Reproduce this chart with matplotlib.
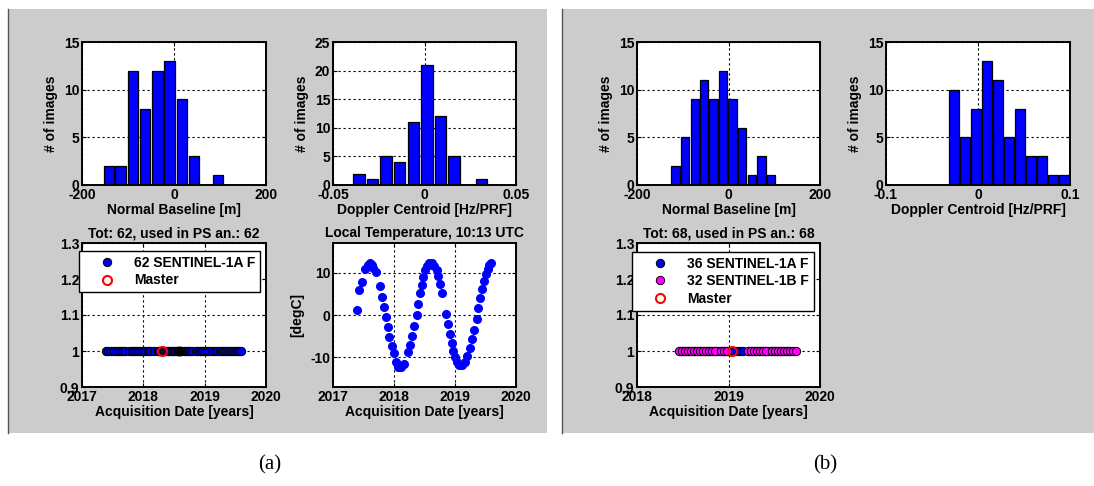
import numpy as np
import matplotlib
matplotlib.use("Agg")
import matplotlib.pyplot as plt
from matplotlib.patches import Rectangle
from matplotlib.lines import Line2D

# ---- data ----

# (a) histograms
base_a_centers = [-142, -116, -89, -63, -36, -10, 17, 43, 70, 96]
base_a_counts = [2, 2, 12, 8, 12, 13, 9, 3, 0, 1]
dop_a_centers = [-0.0358, -0.0285, -0.0210, -0.0136, -0.0061, 0.0013, 0.0088, 0.0162, 0.0237, 0.0311]
dop_a_counts = [2, 1, 5, 4, 11, 21, 12, 5, 0, 1]

# (a) acquisitions + local temperature
dates_a = [2017.388, 2017.432, 2017.470, 2017.525, 2017.568, 2017.607, 2017.634, 2017.661, 2017.705, 2017.770,
           2017.809, 2017.836, 2017.869, 2017.896, 2017.923, 2017.962, 2018.000, 2018.033, 2018.071, 2018.115,
           2018.169, 2018.235, 2018.262, 2018.300, 2018.333, 2018.372, 2018.399, 2018.426, 2018.454, 2018.480,
           2018.508, 2018.536, 2018.574, 2018.617, 2018.656, 2018.700, 2018.727, 2018.754, 2018.787, 2018.852,
           2018.891, 2018.918, 2018.945, 2018.973, 2019.000, 2019.038, 2019.071, 2019.120, 2019.164, 2019.202,
           2019.246, 2019.279, 2019.311, 2019.355, 2019.383, 2019.415, 2019.448, 2019.481, 2019.508, 2019.536,
           2019.563, 2019.590]
temp_a = [1.1, 5.9, 7.8, 10.9, 11.9, 12.3, 11.9, 11.1, 10.1, 6.8,
          4.3, 1.9, -0.5, -2.8, -5.2, -7.4, -9.0, -11.0, -12.2, -12.2,
          -11.5, -8.7, -7.0, -4.9, -2.5, 0.1, 2.7, 5.1, 7.2, 9.0,
          10.6, 11.5, 12.2, 12.2, 11.5, 10.6, 9.3, 7.4, 5.2, 0.3,
          -2.1, -4.4, -6.6, -8.4, -9.8, -11.2, -11.9, -11.8, -11.0, -9.6,
          -7.7, -5.7, -3.5, -0.9, 1.7, 4.0, 6.2, 8.1, 9.7, 10.9,
          11.7, 12.3]
dark_dates_a = [2018.56, 2018.60]
master_a = 2018.30

# (b) histograms
base_b_centers = [-116, -95, -74, -53, -33, -12, 9, 30, 51, 72, 93]
base_b_counts = [2, 5, 9, 11, 9, 12, 9, 6, 1, 3, 1]
dop_b_centers = [-0.0263, -0.0143, -0.0023, 0.0097, 0.0217, 0.0337, 0.0457, 0.0577, 0.0697, 0.0817, 0.0937]
dop_b_counts = [10, 5, 8, 13, 11, 5, 8, 3, 3, 1, 1]

# (b) acquisitions
dates_b_1a = [2018.470, 2018.503, 2018.536, 2018.569, 2018.602, 2018.635, 2018.668, 2018.701, 2018.734,
              2018.767, 2018.800, 2018.833, 2018.866, 2018.899, 2018.932, 2018.965, 2018.998, 2019.031,
              2019.064, 2019.097, 2019.130, 2019.163, 2019.229, 2019.262, 2019.295, 2019.328, 2019.361,
              2019.394, 2019.427, 2019.460, 2019.493, 2019.526, 2019.559, 2019.592, 2019.625, 2019.658]
dates_b_1b = [2018.455, 2018.488, 2018.521, 2018.554, 2018.587, 2018.620, 2018.653, 2018.686, 2018.719,
              2018.752, 2018.785, 2018.818, 2018.851, 2018.917, 2018.950, 2018.983, 2019.214, 2019.247,
              2019.280, 2019.313, 2019.346, 2019.379, 2019.412, 2019.478, 2019.511, 2019.544, 2019.577,
              2019.610, 2019.643, 2019.676, 2019.709, 2019.742]
master_b = 2019.035

# ---- style ----
FS = 10
plt.rcParams['font.family'] = ['Liberation Sans', 'DejaVu Sans']
plt.rcParams['font.weight'] = 'bold'
plt.rcParams['font.size'] = FS
plt.rcParams['axes.labelweight'] = 'bold'
plt.rcParams['axes.titleweight'] = 'bold'
plt.rcParams['axes.unicode_minus'] = False

W, H = 1094, 486
fig = plt.figure(figsize=(W / 100, H / 100), dpi=100)
fig.patch.set_facecolor('white')

# grey MATLAB figure backgrounds (behind the axes)
for x0, x1 in [(8, 547), (562, 1094)]:
    fig.add_artist(Rectangle((x0 / W, 1 - 433 / H), (x1 - x0) / W, (433 - 9) / H,
                             transform=fig.transFigure, facecolor='#cccccc',
                             edgecolor='none', zorder=-2))
    fig.add_artist(Line2D([x0 / W] * 2, [1 - 433 / H, 1 - 9 / H], color='#555555', lw=1,
                          zorder=-1))


def px_axes(x0, y0, x1, y1):
    return fig.add_axes([x0 / W, 1 - y1 / H, (x1 - x0) / W, (y1 - y0) / H])


def style(ax):
    ax.set_facecolor('white')
    for s in ax.spines.values():
        s.set_linewidth(1.4)
    ax.tick_params(direction='in', length=3, width=0.8, top=True, right=True, pad=2,
                   labelsize=FS)
    ax.tick_params(axis='x', pad=2)
    ax.grid(True, color='k', linestyle=(0, (2, 2.5)), linewidth=0.8)
    ax.set_axisbelow(True)


def hist_panel(ax, centers, counts, xlim, xticks, xticklabels, ymax, ystep, xlabel):
    style(ax)
    spacing = centers[1] - centers[0]
    ax.bar(centers, counts, width=0.86 * spacing, color='b', edgecolor='k', linewidth=0.9)
    ax.set_xlim(xlim)
    ax.set_xticks(xticks)
    ax.set_xticklabels(xticklabels)
    ax.set_ylim(0, ymax)
    ax.set_yticks(np.arange(0, ymax + 1, ystep))
    ax.set_xlabel(xlabel, labelpad=1)
    ax.set_ylabel('# of images', labelpad=4)


def dates_panel(ax, xlim, title):
    style(ax)
    ax.set_xlim(xlim)
    ax.set_xticks(np.arange(xlim[0], xlim[1] + 1))
    ax.set_ylim(0.9, 1.3)
    ax.set_yticks([0.9, 1, 1.1, 1.2, 1.3])
    ax.set_yticklabels(['0.9', '1', '1.1', '1.2', '1.3'])
    ax.set_xlabel('Acquisition Date [years]', labelpad=1)
    ax.set_title(title, pad=4, fontsize=FS)


def add_legend(ax, anchor):
    ax.legend(loc='upper left', bbox_to_anchor=anchor, borderaxespad=0, frameon=True,
              fancybox=False, edgecolor='k', framealpha=1, numpoints=1, fontsize=FS,
              handlelength=3.3, handletextpad=0.3, borderpad=0.35, labelspacing=0.25)


# ---- (a) ----
ax1 = px_axes(82, 42, 266, 185)
hist_panel(ax1, base_a_centers, base_a_counts, (-200, 200), [-200, 0, 200],
           ['-200', '0', '200'], 15, 5, 'Normal Baseline [m]')

ax2 = px_axes(333, 42, 516, 185)
hist_panel(ax2, dop_a_centers, dop_a_counts, (-0.05, 0.05), [-0.05, 0, 0.05],
           ['-0.05', '0', '0.05'], 25, 5, 'Doppler Centroid [Hz/PRF]')

ax3 = px_axes(82, 243, 266, 387)
dates_panel(ax3, (2017, 2020), 'Tot: 62, used in PS an.: 62')
ax3.plot(dates_a, np.ones(len(dates_a)), 'o', ms=6, mfc='#0000ee', mec='k', mew=0.7,
         label='62 SENTINEL-1A F', zorder=3)
ax3.plot(dark_dates_a, np.ones(len(dark_dates_a)), 'o', ms=6, mfc='k', mec='k', zorder=3)
ax3.plot([master_a], [1], 'o', ms=6.5, mfc='none', mec='r', mew=1.5, label='Master', zorder=4)
add_legend(ax3, (-0.016, 0.944))

ax4 = px_axes(333, 243, 516, 387)
style(ax4)
ax4.plot(dates_a, temp_a, 'o', ms=5.5, mfc='b', mec='b', zorder=3)
ax4.set_xlim(2017, 2020)
ax4.set_xticks([2017, 2018, 2019, 2020])
ax4.set_ylim(-17, 17)
ax4.set_yticks([-10, 0, 10])
ax4.set_xlabel('Acquisition Date [years]', labelpad=1)
ax4.set_ylabel('[degC]', labelpad=4)
ax4.set_title('Local Temperature, 10:13 UTC', pad=4, fontsize=FS)

# ---- (b) ----
bx1 = px_axes(637, 42, 820, 185)
hist_panel(bx1, base_b_centers, base_b_counts, (-200, 200), [-200, 0, 200],
           ['-200', '0', '200'], 15, 5, 'Normal Baseline [m]')

bx2 = px_axes(886, 42, 1070, 185)
hist_panel(bx2, dop_b_centers, dop_b_counts, (-0.1, 0.1), [-0.1, 0, 0.1],
           ['-0.1', '0', '0.1'], 15, 5, 'Doppler Centroid [Hz/PRF]')

bx3 = px_axes(637, 243, 820, 387)
dates_panel(bx3, (2018, 2020), 'Tot: 68, used in PS an.: 68')
bx3.plot(dates_b_1a, np.ones(len(dates_b_1a)), 'o', ms=6, mfc='#0000ee', mec='k', mew=0.7,
         label='36 SENTINEL-1A F', zorder=3)
bx3.plot(dates_b_1b, np.ones(len(dates_b_1b)), 'o', ms=6, mfc='#ff00ff', mec='k', mew=0.7,
         label='32 SENTINEL-1B F', zorder=3)
bx3.plot([master_b], [1], 'o', ms=6.5, mfc='none', mec='r', mew=1.5, label='Master', zorder=4)
add_legend(bx3, (-0.027, 0.9375))

# sub-figure labels
fig.text(270 / W, 1 - 465 / H, '(a)', family='Liberation Serif', weight='normal', size=15,
         ha='center', va='center')
fig.text(825 / W, 1 - 465 / H, '(b)', family='Liberation Serif', weight='normal', size=15,
         ha='center', va='center')

fig.savefig('out.png', dpi=100)
